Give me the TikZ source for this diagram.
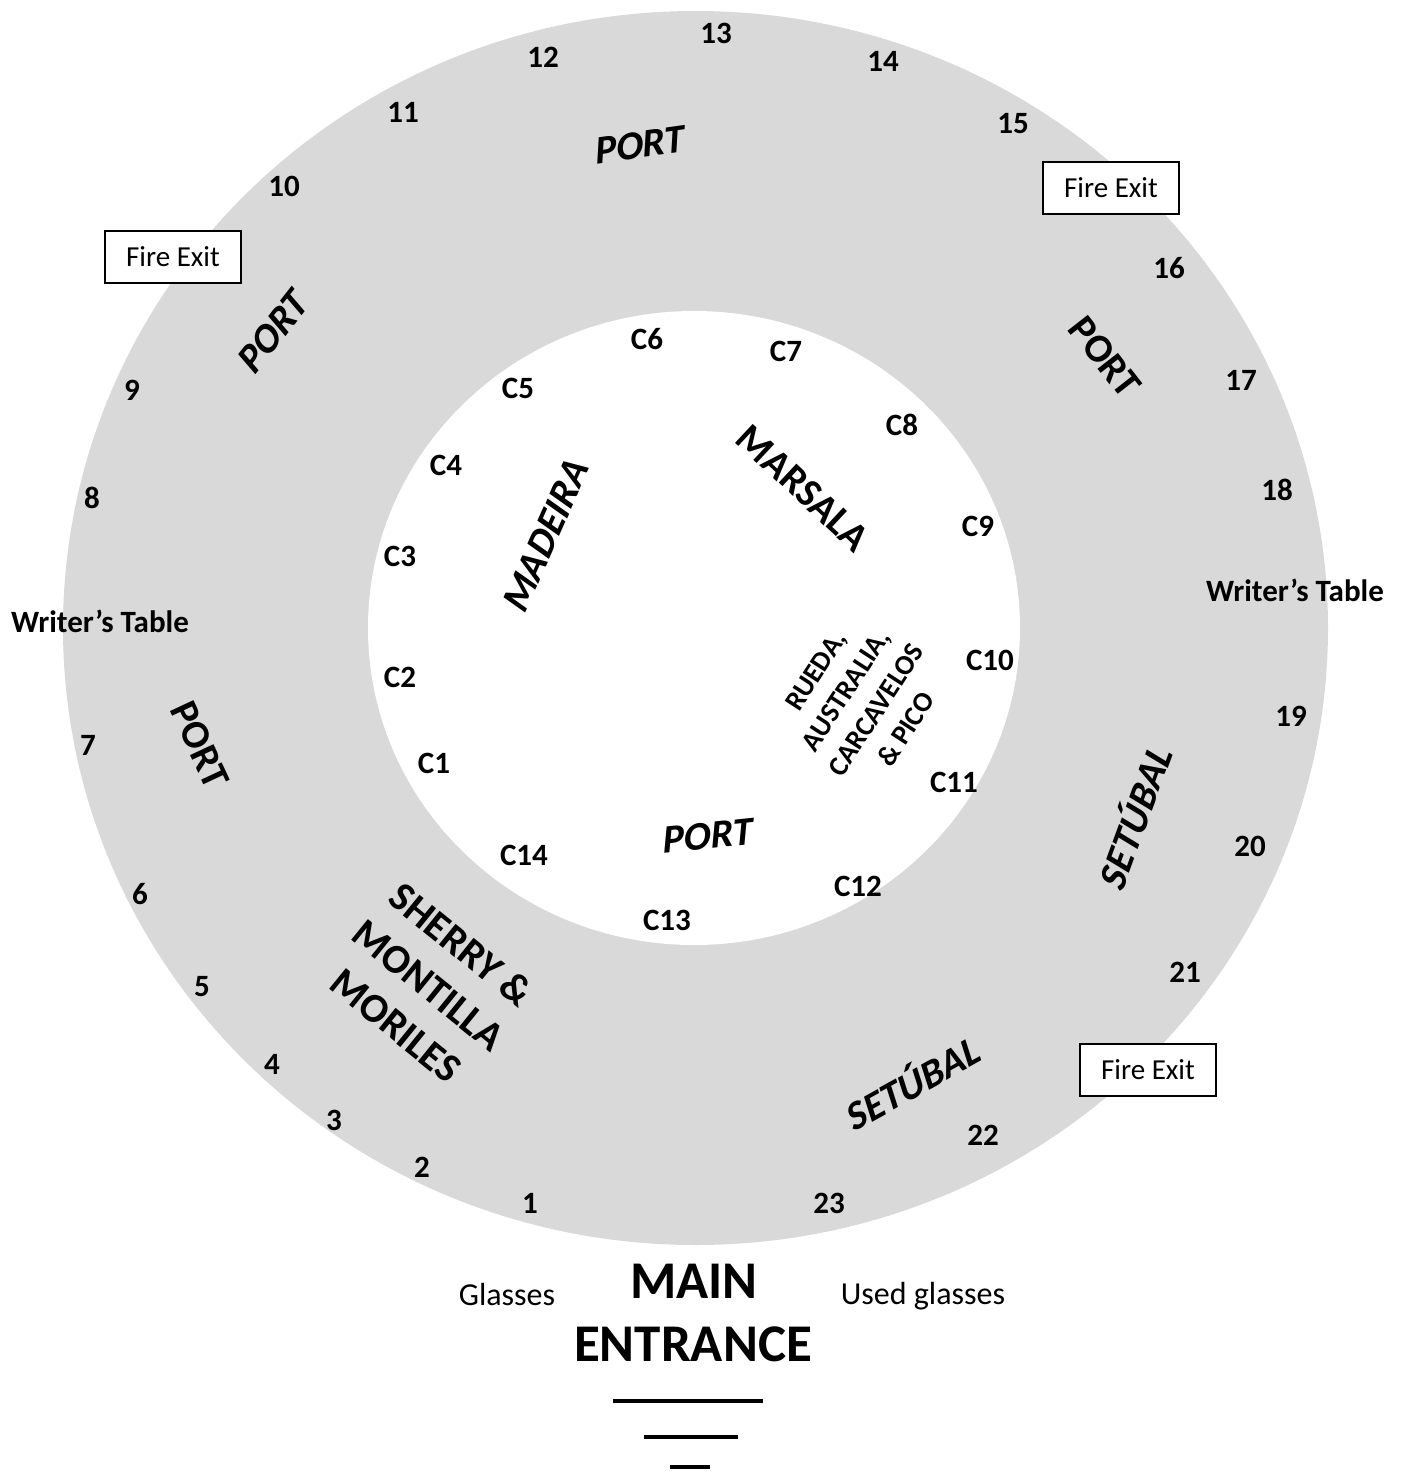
\documentclass[tikz,border=0pt]{standalone}
\usepackage{fontspec}
\setmainfont{Carlito}
\newfontfamily\slantedfont{Carlito}[FakeSlant=0.2]
\definecolor{ringgrey}{RGB}{217,217,217}
\begin{document}
\begin{tikzpicture}[x=0.5pt,y=-0.5pt,
  num/.style={font=\bfseries\fontsize{15.5}{18}\selectfont, inner sep=0pt},
  clab/.style={font=\bfseries\fontsize{15.5}{18}\selectfont, inner sep=0pt},
  wtab/.style={font=\bfseries\fontsize{15.5}{18}\selectfont, inner sep=0pt},
  zone/.style={font=\bfseries\fontsize{20}{24}\selectfont, inner sep=0pt},
  zoneit/.style={font=\slantedfont\bfseries\fontsize{20}{24}\selectfont, inner sep=0pt},
  fireexit/.style={draw=black, line width=0.8pt, fill=white, minimum width=68pt, minimum height=26pt, inner sep=0pt, font=\fontsize{14.5}{17}\selectfont},
  plain/.style={font=\fontsize{16}{19}\selectfont, inner sep=0pt},
  entr/.style={font=\bfseries\fontsize{26.5}{31}\selectfont, inner sep=0pt},
  stair/.style={line width=2pt}]
\useasboundingbox (0,0) rectangle (1408,1474);
% rings
\fill[ringgrey] (695.5,628) ellipse [x radius=316.25pt, y radius=308.5pt];
\fill[white] (694,628) ellipse [x radius=163pt, y radius=158.5pt];
% outer numbers
\node[num] (n1) at (530,1203) {1};
\node[num] (n2) at (422,1167) {2};
\node[num] (n3) at (334,1120) {3};
\node[num] (n4) at (272,1064) {4};
\node[num] (n5) at (202,987) {5};
\node[num] (n6) at (140,894) {6};
\node[num] (n7) at (88,745) {7};
\node[num] (n8) at (92,498) {8};
\node[num] (n9) at (132,390) {9};
\node[num] (n10) at (284,186) {10};
\node[num] (n11) at (403,112) {11};
\node[num] (n12) at (543,57) {12};
\node[num] (n13) at (716,33) {13};
\node[num] (n14) at (883,61) {14};
\node[num] (n15) at (1013,124) {15};
\node[num] (n16) at (1169,268) {16};
\node[num] (n17) at (1241,380) {17};
\node[num] (n18) at (1277,490) {18};
\node[num] (n19) at (1291,716) {19};
\node[num] (n20) at (1250,846) {20};
\node[num] (n21) at (1185,972) {21};
\node[num] (n22) at (983,1135) {22};
\node[num] (n23) at (829,1203) {23};
% writer's tables
\node[wtab] (wtl) at (100,621) {Writer’s Table};
\node[wtab] (wtr) at (1295,590) {Writer’s Table};
% inner counters
\node[clab] (c1) at (434,763) {C1};
\node[clab] (c2) at (400,677) {C2};
\node[clab] (c3) at (400,556) {C3};
\node[clab] (c4) at (446,465) {C4};
\node[clab] (c5) at (518,388) {C5};
\node[clab] (c6) at (647,339) {C6};
\node[clab] (c7) at (786,351) {C7};
\node[clab] (c8) at (902,425) {C8};
\node[clab] (c9) at (978,526) {C9};
\node[clab] (c10) at (990,660) {C10};
\node[clab] (c11) at (954,782) {C11};
\node[clab] (c12) at (858,886) {C12};
\node[clab] (c13) at (667,920) {C13};
\node[clab] (c14) at (524,855) {C14};
% fire exits
\node[fireexit] (fe1) at (173,257) {Fire Exit};
\node[fireexit] (fe2) at (1111,188) {Fire Exit};
\node[fireexit] (fe3) at (1148,1070) {Fire Exit};
% zones
\node[zoneit, rotate=8] (porttop) at (638,145) {PORT};
\node[zoneit, rotate=52] (portul) at (272,333) {PORT};
\node[zone, rotate=-52] (portur) at (1105,357) {PORT};
\node[zone, rotate=-65] (portl) at (200,745) {PORT};
\node[zoneit, rotate=66] (madeira) at (545,537) {MADEIRA};
\node[zone, rotate=-43] (marsala) at (803,488) {MARSALA};
\node[zoneit, rotate=6] (portin) at (706,836) {PORT};
\node[font=\bfseries\fontsize{14}{18}\selectfont, inner sep=0pt, align=center, rotate=57] (rueda) at (861,700) {RUEDA,\\AUSTRALIA,\\CARCAVELOS\\\& PICO};
\node[font=\bfseries\fontsize{20.5}{26}\selectfont, inner sep=0pt, align=center, rotate=-39] (sherry) at (429,985) {SHERRY \&\\MONTILLA\\MORILES};
\node[zoneit, rotate=70] (setr) at (1132,818) {SETÚBAL};
\node[zoneit, rotate=29] (setb) at (910,1082) {SETÚBAL};
% entrance
\node[plain] (glasses) at (507,1294) {Glasses};
\node[plain] (used) at (923,1296) {Used glasses};
\node[entr] (main) at (694,1281) {MAIN};
\node[entr] (entrance) at (693,1344) {ENTRANCE};
\coordinate (s1a) at (613,1401); \coordinate (s1b) at (763,1401);
\coordinate (s2a) at (644,1437); \coordinate (s2b) at (738,1437);
\coordinate (s3a) at (670,1467); \coordinate (s3b) at (710,1467);
\draw[stair] (s1a) -- (s1b);
\draw[stair] (s2a) -- (s2b);
\draw[stair] (s3a) -- (s3b);
\end{tikzpicture}
\end{document}
